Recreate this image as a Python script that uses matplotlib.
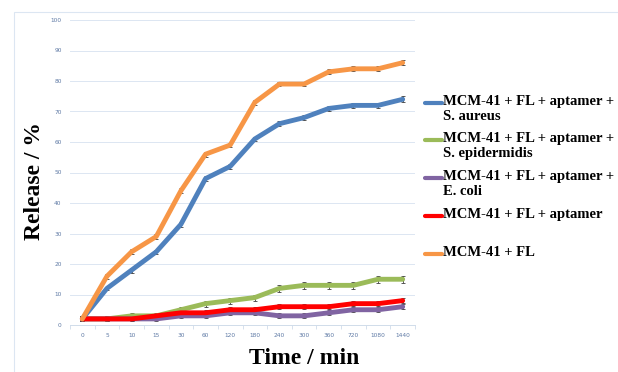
import numpy as np
import matplotlib.pyplot as plt
from matplotlib.lines import Line2D
from matplotlib.patches import Rectangle

# categorie dell'asse x (tempo in minuti)
times = ['0', '5', '10', '15', '30', '60', '120', '180', '240', '300', '360', '720', '1080', '1440']

aureus = [2, 12, 18, 24, 33, 48, 52, 61, 66, 68, 71, 72, 72, 74]
epidermidis = [2, 2, 3, 3, 5, 7, 8, 9, 12, 13, 13, 13, 15, 15]
ecoli = [2, 2, 2, 2, 3, 3, 4, 4, 3, 3, 4, 5, 5, 6]
aptamer = [2, 2, 2, 3, 4, 4, 5, 5, 6, 6, 6, 7, 7, 8]
fl = [2, 16, 24, 29, 44, 56, 59, 73, 79, 79, 83, 84, 84, 86]

err_aureus = [0.8, 0.6, 0.8, 0.6, 0.8, 0.8, 0.8, 0.8, 0.8, 0.8, 0.8, 0.8, 0.8, 1.0]
err_epid = [0.8, 0.8, 0.8, 0.6, 0.8, 1.0, 1.0, 1.0, 1.2, 1.2, 1.2, 1.2, 1.2, 1.2]
err_small = [0.8] * 14

labels = ['MCM-41 + FL + aptamer +\nS. aureus',
          'MCM-41 + FL + aptamer +\nS. epidermidis',
          'MCM-41 + FL + aptamer +\nE. coli',
          'MCM-41 + FL + aptamer',
          'MCM-41 + FL']
colors = ['#4f81bd', '#9bbb59', '#8064a2', '#ff0000', '#f79646']
series = [aureus, epidermidis, ecoli, aptamer, fl]
errs = [err_aureus, err_epid, err_small, err_small, err_small]

W, H = 618, 372
fig = plt.figure(figsize=(W / 100, H / 100), dpi=100)

# cornice esterna chiara
fig.add_artist(Rectangle((14 / W, -0.01), 1.0, 1 - 12 / H + 0.01, transform=fig.transFigure,
                         fill=False, edgecolor='#dce6f2', linewidth=0.8))

ax = fig.add_axes([70 / W, (H - 325) / H, 345 / W, 305 / H])
x = np.arange(len(times))

for s, e, c in zip(series, errs, colors):
    ax.errorbar(x, s, yerr=e, color=c, linewidth=3.5, ecolor='#404040',
                elinewidth=0.6, capsize=1.5, capthick=0.6, solid_capstyle='round')

ax.set_xlim(-0.5, len(times) - 0.5)
ax.set_ylim(0, 100)
ax.set_yticks(np.arange(0, 101, 10))
ax.set_xticks(x)
ax.set_xticklabels(times)
ax.set_xticks(np.arange(-0.5, len(times), 1), minor=True)
ax.tick_params(axis='both', which='major', labelsize=4.2, labelcolor='#5f7aa5', length=0, pad=6)
ax.tick_params(axis='x', which='minor', length=3, color='#d0dcea', width=0.6)
ax.grid(axis='y', color='#dce6f2', linewidth=0.7)
ax.set_axisbelow(True)
for sp in ['top', 'right', 'left']:
    ax.spines[sp].set_visible(False)
ax.spines['bottom'].set_color('#d0dcea')
ax.spines['bottom'].set_linewidth(0.7)

fig.text(35 / W, (H - 181) / H, 'Release / %', rotation=90, ha='center', va='center',
         fontsize=17, fontweight='bold', family='Liberation Serif')
fig.text(304 / W, (H - 358) / H, 'Time / min', ha='center', va='center',
         fontsize=17, fontweight='bold', family='Liberation Serif')

# legenda manuale
ys = [103, 140, 178, 216, 254]
for yy, lab, c in zip(ys, labels, colors):
    fig.add_artist(Line2D([425 / W, 442 / W], [(H - yy) / H] * 2, transform=fig.transFigure,
                          color=c, linewidth=3, solid_capstyle='round'))
    fig.text(443 / W, (H - yy + 8) / H, lab, ha='left', va='top', fontsize=10.5,
             fontweight='bold', family='Liberation Serif', linespacing=1.2)

fig.savefig('out.png', dpi=100)
